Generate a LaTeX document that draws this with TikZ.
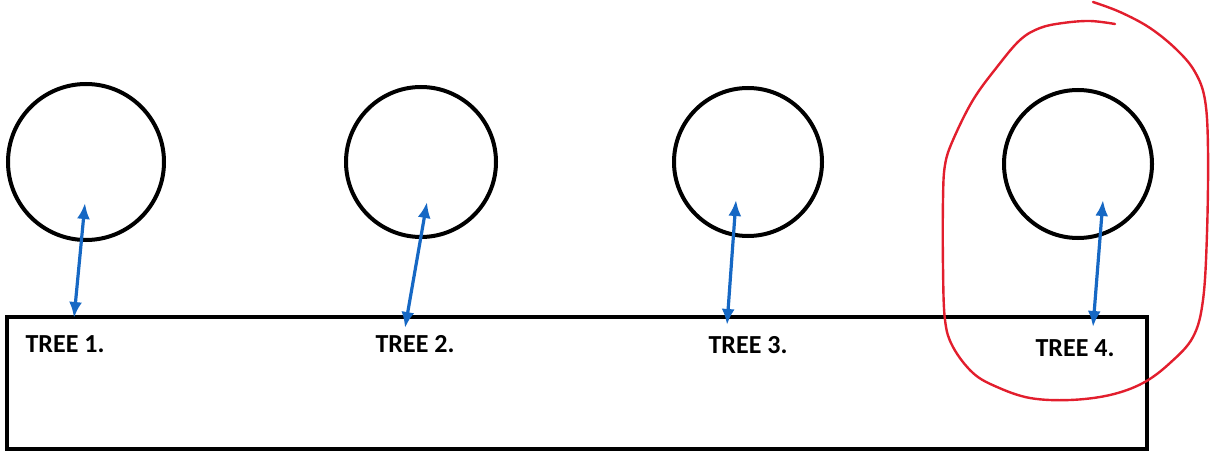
\documentclass[tikz,border=0pt]{standalone}
\usepackage{fontspec}
\setmainfont{Carlito}
\usetikzlibrary{arrows.meta}

\definecolor{linkblue}{RGB}{22,104,196}
\definecolor{markred}{RGB}{226,30,45}

\tikzset{
    tree/.style = {circle, draw, line width = 4pt, minimum size = #1, inner sep = 0pt},
    ground/.style = {draw, line width = 4pt},
    link/.style = {draw = linkblue, line width = 3.2pt, {Latex[length=16pt,width=13pt]}-{Latex[length=16pt,width=13pt]}},
    treelabel/.style = {font = \bfseries\fontsize{26}{30}\selectfont, inner sep = 0pt}
}

\begin{document}
\begin{tikzpicture}[x = 1pt, y = -1pt]
    \useasboundingbox (0,0) rectangle (1213,457);
    % ground strip
    \draw[ground] (7,317) rectangle (1147,449);
    % trees: number / centre / diameter / arrow top / arrow foot / label
    \foreach \n/\cx/\cy/\d/\tx/\ty/\bx/\by/\lx/\ly in {
        1/86/162/156/85/203/74/318/65/344,
        2/421/162/150/427/202/405/328/415/344,
        3/748/162/148/736/200/727/325/748/345,
        4/1078/164/148/1103/200/1093/327/1075/348}{
        \node[tree = \d] (tree\n) at (\cx,\cy) {};
        \coordinate (top\n) at (\tx,\ty);
        \coordinate (foot\n) at (\bx,\by);
        \node[treelabel] (label\n) at (\lx,\ly) {TREE \n.};
        \draw[link] (foot\n) -- (top\n);
    }
    % hand drawn loop round tree 4
    \draw[markred, line width = 2.4pt, line cap = round] plot[smooth, tension = 0.6] coordinates {
        (1115,24) (1090,21) (1063,23) (1040,28) (1020,40) (997,67) (973,100)
        (953,140) (945,165) (943,200) (943,267) (945,320) (953,347) (973,373)
        (997,387) (1030,398) (1070,400) (1110,395) (1143,383) (1170,363)
        (1193,337) (1203,300) (1207,233) (1208,150) (1205,100) (1195,72)
        (1177,50) (1150,28) (1120,12) (1093,2)};
\end{tikzpicture}
\end{document}
